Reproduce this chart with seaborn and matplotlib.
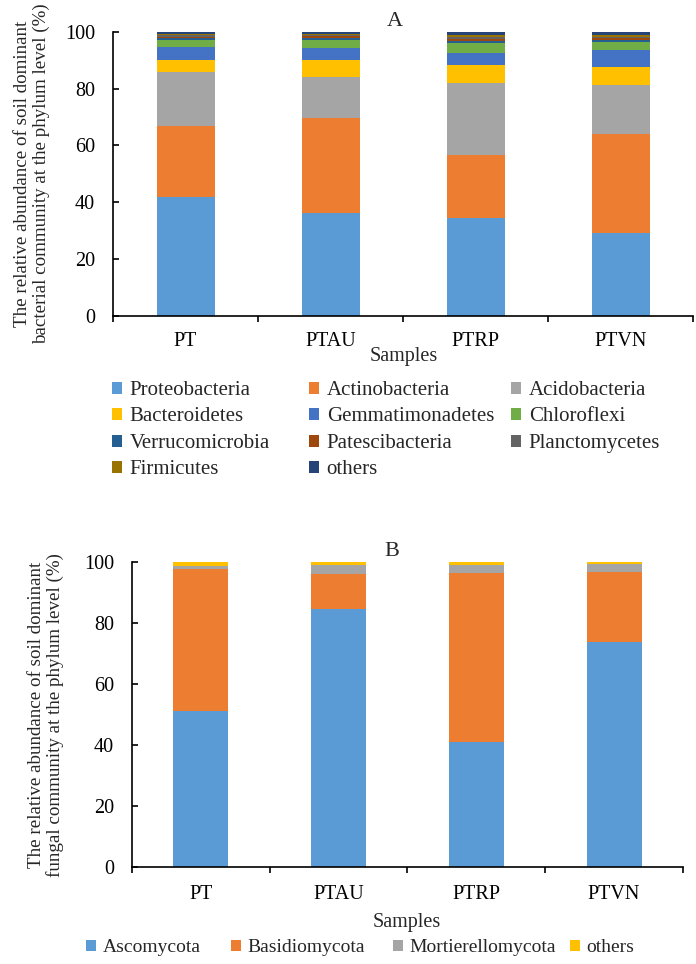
import pandas as pd
import numpy as np
import matplotlib
matplotlib.use("Agg")
import matplotlib.pyplot as plt
import seaborn as sns
from matplotlib.patches import Patch

W, H = 696, 964

samples = ["PT", "PTAU", "PTRP", "PTVN"]

# bacterial phyla (%), order bottom -> top
proteobacteria = [41.8, 36.1, 34.4, 29.1]
actinobacteria = [24.9, 33.4, 22.4, 34.8]
acidobacteria = [19.3, 14.4, 25.3, 17.5]
bacteroidetes = [4.2, 6.3, 6.2, 6.1]
gemmatimonadetes = [4.4, 4.2, 4.2, 5.9]
chloroflexi = [2.5, 2.8, 3.5, 2.9]
verrucomicrobia = [0.6, 0.6, 0.7, 0.7]
patescibacteria = [0.6, 0.6, 0.9, 0.7]
planctomycetes = [0.5, 0.5, 0.6, 0.6]
firmicutes = [0.5, 0.4, 0.5, 0.5]
bac_others = [0.7, 0.7, 1.3, 1.2]

bac_phyla = ["Proteobacteria", "Actinobacteria", "Acidobacteria", "Bacteroidetes",
             "Gemmatimonadetes", "Chloroflexi", "Verrucomicrobia", "Patescibacteria",
             "Planctomycetes", "Firmicutes", "others"]
bac_values = [proteobacteria, actinobacteria, acidobacteria, bacteroidetes,
              gemmatimonadetes, chloroflexi, verrucomicrobia, patescibacteria,
              planctomycetes, firmicutes, bac_others]
bac_colors = ["#5B9BD5", "#ED7D31", "#A5A5A5", "#FFC000", "#4472C4", "#70AD47",
              "#255E91", "#9E480E", "#636363", "#997300", "#264478"]

# fungal phyla (%)
ascomycota = [51.1, 84.5, 40.9, 73.7]
basidiomycota = [46.5, 11.5, 55.4, 22.9]
mortierellomycota = [1.0, 2.9, 2.7, 2.7]
fun_others = [1.4, 1.1, 1.0, 0.7]

fun_phyla = ["Ascomycota", "Basidiomycota", "Mortierellomycota", "others"]
fun_values = [ascomycota, basidiomycota, mortierellomycota, fun_others]
fun_colors = ["#5B9BD5", "#ED7D31", "#A5A5A5", "#FFC000"]

sns.set_theme(style="ticks")
SERIF = ['Liberation Serif', 'DejaVu Serif']
plt.rcParams['font.family'] = SERIF
plt.rcParams['font.serif'] = SERIF
FS = 14.5


def stacked(ax, phyla, values, colors):
    rows = []
    for name, vals in zip(phyla, values):
        for s, v in zip(samples, vals):
            rows.append({"sample": s, "phylum": name, "value": v})
    df = pd.DataFrame(rows)
    df["cum"] = df.groupby("sample")["value"].cumsum()
    # draw cumulative totals from the top layer down so each layer shows
    for name, col in reversed(list(zip(phyla, colors))):
        sns.barplot(data=df[df.phylum == name], x="sample", y="cum", order=samples,
                    color=col, saturation=1, width=0.4, linewidth=0,
                    errorbar=None, ax=ax)
    ax.set_xlim(-0.5, 3.5)
    ax.set_ylim(0, 100)
    ax.set_yticks(np.arange(0, 101, 20))
    ax.set_xlabel("")
    ax.set_ylabel("")
    sns.despine(ax=ax)
    for sp in ["left", "bottom"]:
        ax.spines[sp].set_linewidth(1.2)
        ax.spines[sp].set_color("black")
    ax.tick_params(axis="y", direction="in", length=4, width=1.2, pad=13,
                   labelsize=FS, colors="black")
    ax.set_xticks(np.arange(-0.5, 3.6, 1), minor=True)
    ax.tick_params(axis="x", which="minor", direction="out", length=4, width=1.2,
                   color="black")
    ax.tick_params(axis="x", which="major", length=0, labelsize=FS, labelcolor="black")


def add_legend(handles, labels, x, y, loc, size, **kw):
    leg = fig.legend(handles, labels, loc=loc, bbox_to_anchor=(x / W, 1 - y / H),
                     frameon=False, borderpad=0, borderaxespad=0, handlelength=0.5,
                     handleheight=0.5, handletextpad=0.35,
                     prop=dict(family=SERIF, size=size), **kw)
    for t in leg.get_texts():
        t.set_fontfamily(SERIF)
    return leg


fig = plt.figure(figsize=(W / 100, H / 100), dpi=100)

axA = fig.add_axes([113 / W, 1 - 316 / H, 580 / W, 284.3 / H])
stacked(axA, bac_phyla, bac_values, bac_colors)
axA.tick_params(axis="x", which="major", pad=11.5)

axB = fig.add_axes([132 / W, 1 - 867 / H, 551 / W, 305 / H])
stacked(axB, fun_phyla, fun_values, fun_colors)
axB.tick_params(axis="x", which="major", pad=13)

fig.text(395 / W, 1 - 22 / H, "A", ha="center", va="center", fontsize=16)
fig.text(392 / W, 1 - 551 / H, "B", ha="center", va="center", fontsize=16)

fig.text(404 / W, 1 - 357 / H, "Samples", ha="center", va="center", fontsize=FS)
fig.text(407 / W, 1 - 922 / H, "Samples", ha="center", va="center", fontsize=FS)

fig.text(32 / W, 1 - 174 / H,
         "The relative abundance of soil dominant\nbacterial community at the phylum level (%)",
         rotation=90, ha="center", va="center", fontsize=13.7, linespacing=1.1,
         multialignment="center")
fig.text(46 / W, 1 - 715 / H,
         "The relative abundance of soil dominant\nfungal community at the phylum level (%)",
         rotation=90, ha="center", va="center", fontsize=13.7, linespacing=1.1,
         multialignment="center")

# legend A: three columns, filled row by row
col_x = [112, 309, 511]
for j in range(3):
    idx = list(range(j, len(bac_phyla), 3))
    add_legend([Patch(facecolor=bac_colors[i], edgecolor="none") for i in idx],
               [bac_phyla[i] for i in idx], col_x[j], 381, "upper left", 15,
               labelspacing=0.36)

# legend B: one row, one entry per legend so each sits at its own x
leg_x = [86, 231, 393, 570]
for name, col, x in zip(fun_phyla, fun_colors, leg_x):
    add_legend([Patch(facecolor=col, edgecolor="none")], [name], x, 948,
               "center left", 14)

fig.savefig("out.png", dpi=100)
